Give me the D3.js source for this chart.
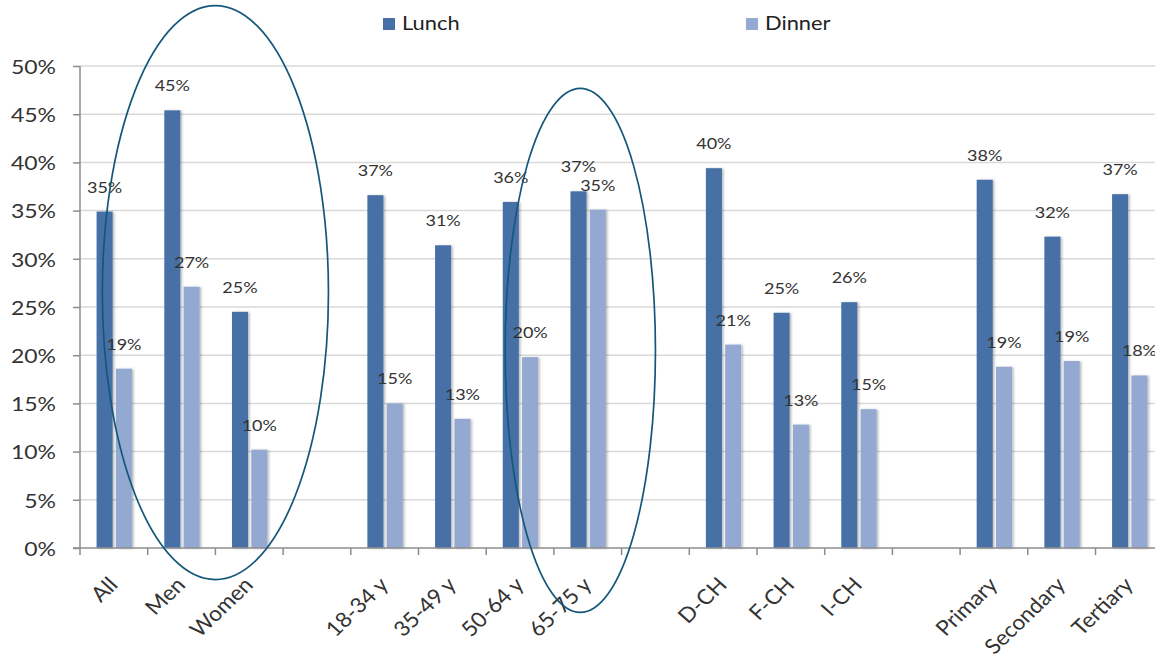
<!DOCTYPE html>
<html><head><meta charset="utf-8">
<script src="https://cdn.jsdelivr.net/npm/d3@7"></script>
<style>html,body{margin:0;padding:0;background:#fff;overflow:hidden}svg{display:block}</style>
</head><body>
<svg id="chart" width="1155" height="660"></svg>
<script>
// ---- data ----
const categories = ["All","Men","Women","gap1","18-34 y","35-49 y","50-64 y","65-75 y","gap2","D-CH","F-CH","I-CH","gap3","Primary","Secondary","Tertiary"];
const xTickLabels = ["All","Men","Women","","18-34 y","35-49 y","50-64 y","65-75 y","","D-CH","F-CH","I-CH","","Primary","Secondary","Tertiary"];
const lunch  = [34.9,45.4,24.5,null,36.6,31.4,35.9,37.0,null,39.4,24.4,25.5,null,38.2,32.3,36.7];
const dinner = [18.6,27.1,10.2,null,15.0,13.4,19.8,35.1,null,21.1,12.8,14.4,null,18.8,19.4,17.9];
const lunchLabels  = ["35%","45%","25%","","37%","31%","36%","37%","","40%","25%","26%","","38%","32%","37%"];
const dinnerLabels = ["19%","27%","10%","","15%","13%","20%","35%","","21%","13%","15%","","19%","19%","18%"];
const yTicks = [0,5,10,15,20,25,30,35,40,45,50];
const seriesNames = ["Lunch","Dinner"];
const colors = {Lunch:"#4671a6", Dinner:"#93a9d1"};

// ---- layout ----
const svg = d3.select("#chart");
const W = 1155, H = 660;
const leftX = 80, slot = 67.7, topY = 66, bottomY = 548;
const SX = 1.15; // horizontal text stretch of the reference
const font = "Lato, 'Open Sans', sans-serif";
const textCol = "#333333";

const x = d3.scaleBand().domain(categories).range([leftX, leftX + slot*categories.length]).paddingInner(0).paddingOuter(0);
const y = d3.scaleLinear().domain([0,50]).range([bottomY, topY]);
const bw = x.bandwidth();

const defs = svg.append("defs");
const f = defs.append("filter").attr("id","sh").attr("x","-20%").attr("y","-5%").attr("width","160%").attr("height","110%");
f.append("feDropShadow").attr("dx",1.6).attr("dy",0.5).attr("stdDeviation",0.9).attr("flood-color","#000").attr("flood-opacity",0.28);

// gridlines
svg.append("g").selectAll("line").data(yTicks.filter(d=>d>0)).join("line")
  .attr("x1", leftX).attr("x2", W).attr("y1", d=>y(d)).attr("y2", d=>y(d))
  .attr("stroke","#d9d9d9").attr("stroke-width",1.5);

// y axis
const yAxis = d3.axisLeft(y).tickValues(yTicks).tickSize(7).tickPadding(0).tickFormat(d=>d+"%");
const gy = svg.append("g").attr("transform",`translate(${leftX},0)`).call(yAxis);
gy.select(".domain").attr("stroke","#8c8c8c").attr("stroke-width",1.5).attr("d",`M0,${topY}V${bottomY}`);
gy.selectAll(".tick line").attr("stroke","#8c8c8c").attr("stroke-width",1.5);
gy.selectAll(".tick text").attr("font-family",font).attr("font-size",20).attr("fill",textCol)
  .attr("text-anchor","end").attr("x",0).attr("dy","0.36em")
  .attr("transform",`translate(-24,0) scale(${SX},1)`);

// bars
const g = svg.append("g");
const idx = d3.range(categories.length);
g.selectAll("rect.l").data(idx.filter(i=>lunch[i]!=null)).join("rect")
  .attr("x", i=>x(categories[i]) + bw*0.245).attr("width", bw*0.237)
  .attr("y", i=>y(lunch[i])).attr("height", i=>y(0)-y(lunch[i]))
  .attr("fill", colors.Lunch).attr("filter","url(#sh)");
g.selectAll("rect.d").data(idx.filter(i=>dinner[i]!=null)).join("rect")
  .attr("x", i=>x(categories[i]) + bw*0.53).attr("width", bw*0.237)
  .attr("y", i=>y(dinner[i])).attr("height", i=>y(0)-y(dinner[i]))
  .attr("fill", colors.Dinner).attr("filter","url(#sh)");

// x axis
const xAxis = d3.axisBottom(x).tickSize(0).tickFormat(()=> "");
const gx = svg.append("g").attr("transform",`translate(0,${bottomY})`).call(xAxis);
gx.select(".domain").attr("stroke","#8c8c8c").attr("stroke-width",1.5).attr("d",`M${leftX-7},0H${W}`);
svg.append("g").selectAll("line").data(idx).join("line")
  .attr("x1", i=>x(categories[i])).attr("x2", i=>x(categories[i]))
  .attr("y1", bottomY).attr("y2", bottomY+7).attr("stroke","#8c8c8c").attr("stroke-width",1.5);

// x labels
svg.append("g").selectAll("text").data(idx.filter(i=>xTickLabels[i])).join("text")
  .attr("transform", i=>`translate(${x(categories[i])+bw/2+5},${bottomY+38}) scale(1.08,1) rotate(-46)`)
  .attr("text-anchor","end").attr("font-family",font).attr("font-size",21).attr("fill",textCol)
  .text(i=>xTickLabels[i]);

// value labels
svg.append("g").selectAll("text").data(idx.filter(i=>lunch[i]!=null)).join("text")
  .attr("transform", i=>`translate(${x(categories[i])+bw*0.245+bw*0.237/2},${y(lunch[i])-19}) scale(1.2,1)`)
  .attr("text-anchor","middle").attr("font-family",font).attr("font-size",15).attr("fill",textCol)
  .text(i=>lunchLabels[i]);
svg.append("g").selectAll("text").data(idx.filter(i=>dinner[i]!=null)).join("text")
  .attr("transform", i=>`translate(${x(categories[i])+bw*0.53+bw*0.237/2},${y(dinner[i])-19}) scale(1.2,1)`)
  .attr("text-anchor","middle").attr("font-family",font).attr("font-size",15).attr("fill",textCol)
  .text(i=>dinnerLabels[i]);

// legend
const legX = [383, 746];
const leg = svg.append("g").selectAll("g").data(seriesNames).join("g")
  .attr("transform",(d,i)=>`translate(${legX[i]},18)`);
leg.append("rect").attr("width",12).attr("height",12).attr("fill",d=>colors[d]);
leg.append("text").attr("transform",`translate(19,12) scale(${SX},1)`)
  .attr("font-family",font).attr("font-size",19).attr("fill","#222").text(d=>d);

// annotation ellipses (anchored to the category scale)
const ell = [
  {cx: x("Women"), cy: y(26.5), rx: slot*1.67, ry: 287},
  {cx: x("65-75 y") + bw*0.39, cy: y(20.5), rx: slot*1.11, ry: 262}
];
svg.append("g").selectAll("ellipse").data(ell).join("ellipse")
  .attr("cx",d=>d.cx).attr("cy",d=>d.cy).attr("rx",d=>d.rx).attr("ry",d=>d.ry)
  .attr("fill","none").attr("stroke","#14577a").attr("stroke-width",1.7);
</script>
</body></html>
